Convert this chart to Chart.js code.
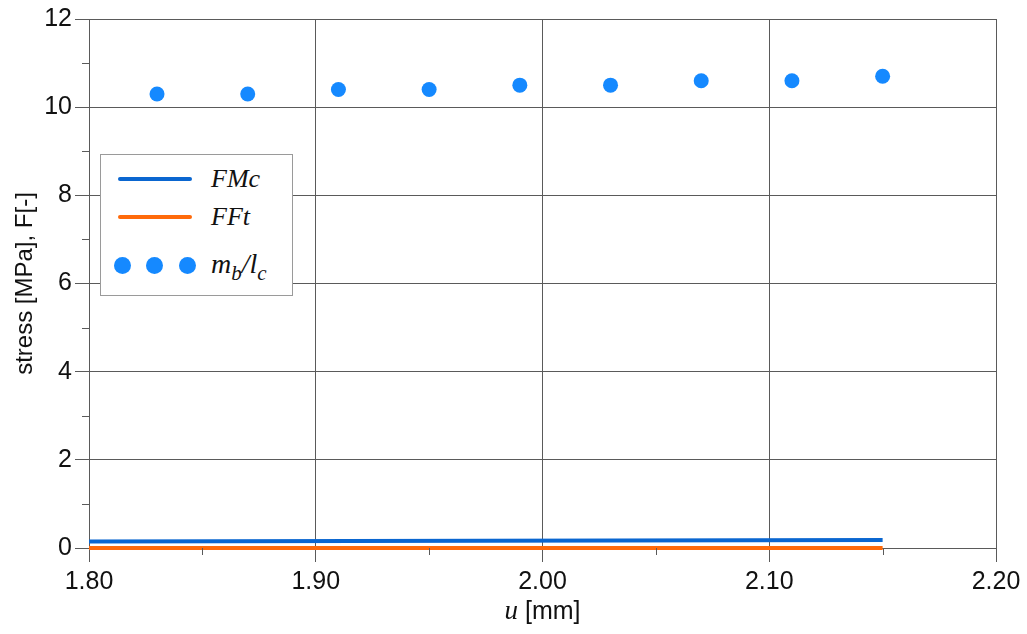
<!DOCTYPE html>
<html><head><meta charset="utf-8">
<script src="https://cdn.jsdelivr.net/npm/chart.js@4/dist/chart.umd.min.js"></script>
<style>
html,body{margin:0;padding:0;background:#fff;}
#wrap{position:relative;width:1027px;height:634px;}
#legend{position:absolute;left:100px;top:154px;width:191px;height:140px;border:1px solid #9a9a9a;background:#fff;font-family:"Liberation Serif","DejaVu Serif",serif;font-style:italic;font-size:26px;color:#111;}
.row{position:absolute;left:0;width:191px;height:36px;}
.ln{position:absolute;left:17px;width:74px;height:4px;border-radius:2px;}
.lbl{position:absolute;left:110px;line-height:36px;top:0;white-space:nowrap;}
.dot{position:absolute;width:17px;height:17px;border-radius:50%;background:#1589ff;}
sub{font-size:21px;vertical-align:-7px;line-height:0;}
</style></head>
<body><div id="wrap"><canvas id="c" width="1027" height="634"></canvas>
<div id="legend">
 <div class="row" style="top:6px"><div class="ln" style="top:16px;background:#0a66d0"></div><div class="lbl">FMc</div></div>
 <div class="row" style="top:44px"><div class="ln" style="top:16px;background:#ff6a0a"></div><div class="lbl">FFt</div></div>
 <div class="row" style="top:92px"><div class="dot" style="left:13px;top:10px"></div><div class="dot" style="left:45px;top:10px"></div><div class="dot" style="left:78px;top:10px"></div><div class="lbl" style="font-size:28px;top:-1px">m<sub>b</sub>/l<sub>c</sub></div></div>
</div></div>
<script>
const xTicks = [1.80, 1.90, 2.00, 2.10, 2.20];
const yTicks = [0, 2, 4, 6, 8, 10, 12];
const uPoints = [1.83, 1.87, 1.91, 1.95, 1.99, 2.03, 2.07, 2.11, 2.15];
const mbLc = [10.3, 10.3, 10.4, 10.4, 10.5, 10.5, 10.6, 10.6, 10.7];
const uLine = [1.80, 2.15];
const FMc = [0.15, 0.18];
const FFt = [0.0, 0.0];
const xMinor = [1.85, 1.95, 2.05, 2.15];
const yMinor = [1, 3, 5, 7, 9, 11];

const FONT = '"Liberation Sans", Arial, sans-serif';
const SERIF = '"Liberation Serif", "Times New Roman", serif';
const gridCol = '#5a5a5a';

const minorTicks = {
  id: 'minorTicks',
  afterDraw(chart) {
    const {ctx, scales: {x, y}, chartArea: a} = chart;
    ctx.save();
    ctx.strokeStyle = gridCol; ctx.lineWidth = 1;
    ctx.beginPath();
    xMinor.forEach(v => { const px = Math.round(x.getPixelForValue(v)) + 0.5; ctx.moveTo(px, a.bottom); ctx.lineTo(px, a.bottom + 7); });
    yMinor.forEach(v => { const py = Math.round(y.getPixelForValue(v)) + 0.5; ctx.moveTo(a.left - 7, py); ctx.lineTo(a.left, py); });
    ctx.stroke();
    // x title with italic u
    ctx.fillStyle = '#111';
    ctx.textBaseline = 'alphabetic';
    const cx = (a.left + a.right) / 2;
    ctx.font = 'italic 27px ' + SERIF;
    const w1 = ctx.measureText('u').width;
    ctx.font = '25px ' + FONT;
    const rest = ' [mm]';
    const w2 = ctx.measureText(rest).width;
    const sx = cx - (w1 + w2) / 2;
    ctx.font = 'italic 27px ' + SERIF;
    ctx.fillText('u', sx, 619);
    ctx.font = '25px ' + FONT;
    ctx.fillText(rest, sx + w1, 619);
    ctx.restore();
  }
};

const ctx = document.getElementById('c').getContext('2d');
new Chart(ctx, {
  type: 'scatter',
  data: {
    datasets: [
      { label: 'FMc', data: uLine.map((u, i) => ({x: u, y: FMc[i]})), showLine: true, borderColor: '#0a66d0', borderWidth: 4, pointRadius: 0, order: 2, clip: false },
      { label: 'FFt', data: uLine.map((u, i) => ({x: u, y: FFt[i]})), showLine: true, borderColor: '#ff6a0a', borderWidth: 4, pointRadius: 0, order: 1, clip: false },
      { label: 'mb/lc', data: uPoints.map((u, i) => ({x: u, y: mbLc[i]})), showLine: false, backgroundColor: '#1589ff', borderColor: '#1589ff', pointRadius: 7.5, borderWidth: 0, order: 0 }
    ]
  },
  options: {
    responsive: false,
    animation: false,
    layout: { padding: { left: 0, right: 31, top: 19, bottom: 0 } },
    plugins: { legend: { display: false }, tooltip: { enabled: false } },
    scales: {
      x: {
        type: 'linear', min: 1.8, max: 2.2,
        afterBuildTicks: s => { s.ticks = xTicks.map(v => ({value: v})); },
        afterFit: s => { s.height = 86; },
        ticks: { callback: v => v.toFixed(2), color: '#111', font: { family: FONT, size: 25 }, padding: 5, maxRotation: 0 },
        grid: { color: gridCol, tickColor: gridCol, tickLength: 14, lineWidth: 1 },
        border: { color: gridCol, width: 1 },
        title: { display: false }
      },
      y: {
        type: 'linear', min: 0, max: 12,
        afterBuildTicks: s => { s.ticks = yTicks.map(v => ({value: v})); },
        afterFit: s => { s.width = 89; },
        ticks: { color: '#111', font: { family: FONT, size: 25 }, padding: 3 },
        grid: { color: gridCol, tickColor: gridCol, tickLength: 14, lineWidth: 1 },
        border: { color: gridCol, width: 1 },
        title: { display: true, text: 'stress [MPa], F[-]', color: '#111', font: { family: FONT, size: 24 }, padding: { top: 11, bottom: 0 } }
      }
    }
  },
  plugins: [minorTicks]
});
</script></body></html>
